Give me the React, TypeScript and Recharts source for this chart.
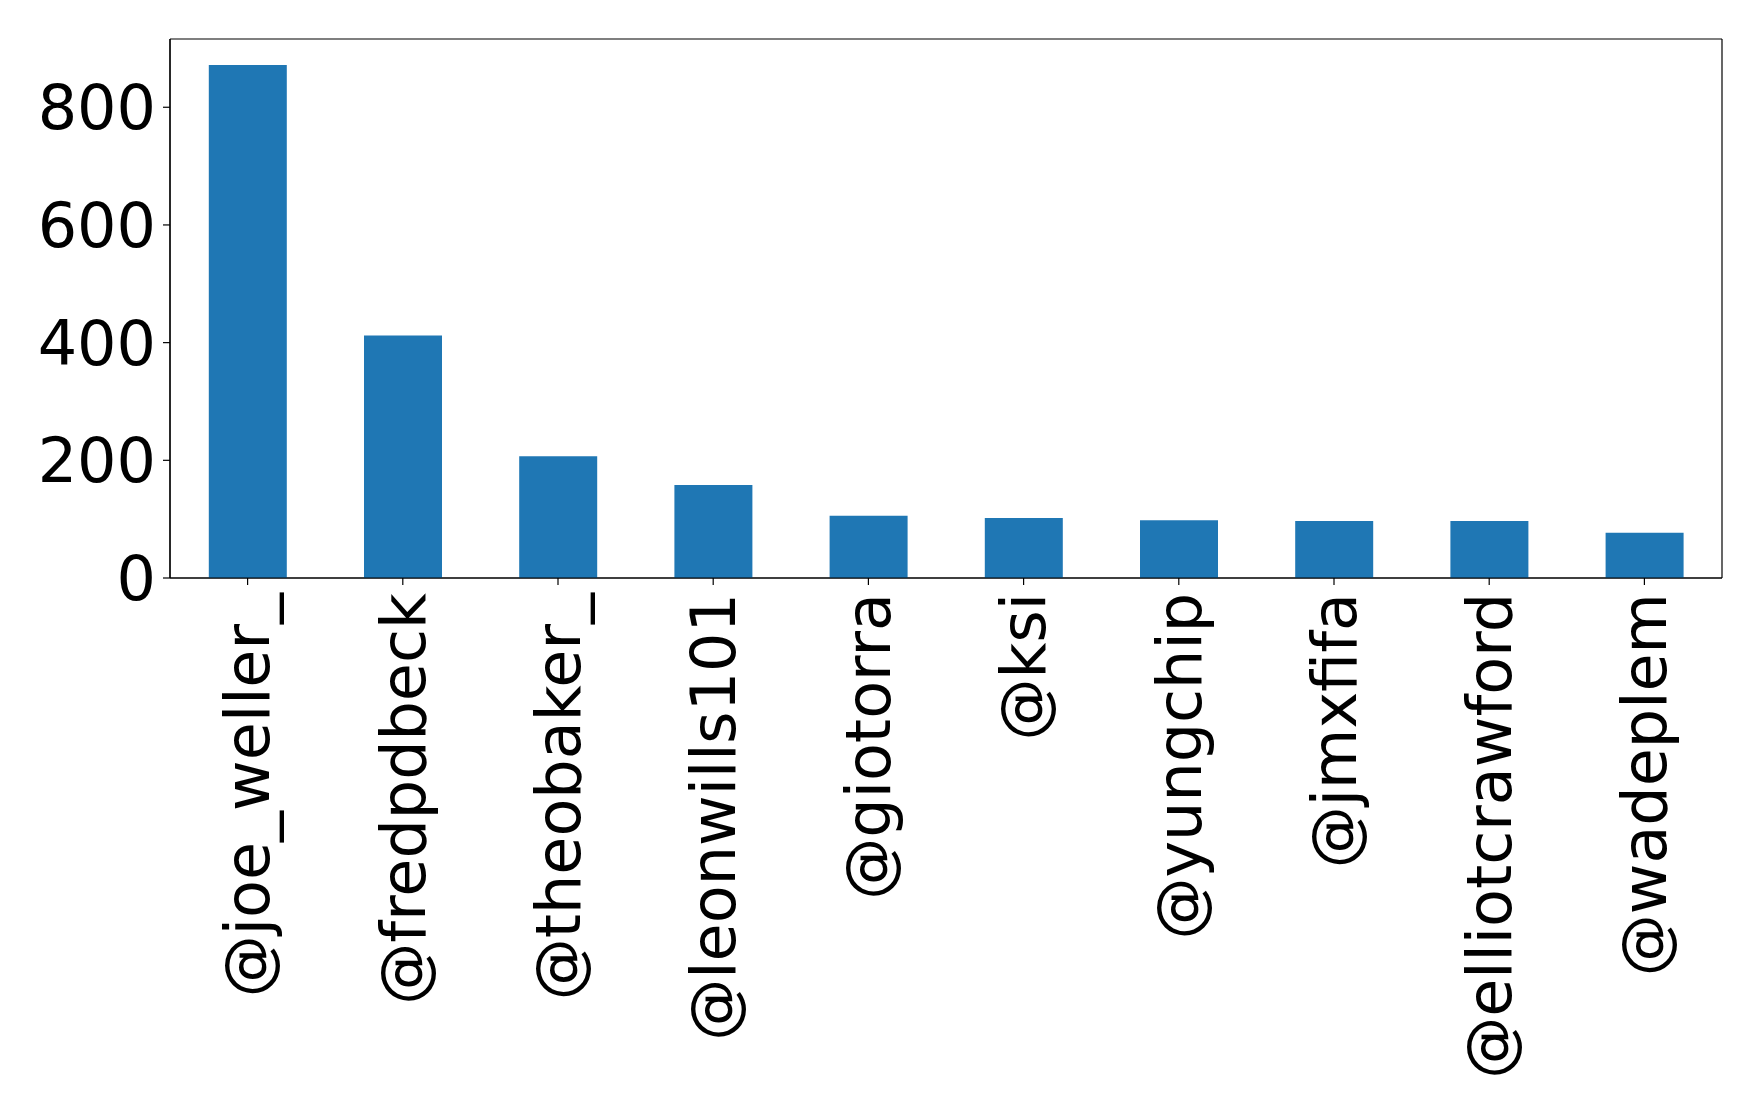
import React from 'react';
import { BarChart, Bar, XAxis, YAxis, CartesianGrid } from 'recharts';

const handles = [
  '@joe_weller_',
  '@fredpdbeck',
  '@theobaker_',
  '@leonwills101',
  '@giotorra',
  '@ksi',
  '@yungchip',
  '@jmxfifa',
  '@elliotcrawford',
  '@wadeplem',
];

const counts = [872, 412, 207, 158, 106, 102, 98, 97, 97, 77];

const yTicks = [0, 200, 400, 600, 800];

const data = handles.map((name, i) => ({ name, count: counts[i] }));

const FONT = '"DejaVu Sans", sans-serif';

// rotated handle labels, text ends right under the tick
function HandleTick(props: any) {
  const { x, y, payload } = props;
  return (
    <g transform={`translate(${x},${y})`}>
      <text
        x={0}
        y={0}
        dy="0.35em"
        transform="rotate(-90)"
        textAnchor="end"
        fill="#000"
        fontSize={62}
        fontFamily={FONT}
      >
        {payload.value}
      </text>
    </g>
  );
}

export default function App() {
  return (
    <div style={{ position: 'absolute', left: 0, top: 0, width: 1758, height: 1118, background: '#fff' }}>
      <BarChart
        width={1758}
        height={1118}
        data={data}
        margin={{ top: 39, right: 36, bottom: 10, left: 10 }}
        barCategoryGap="25%"
      >
        {/* frame around the plot area */}
        <CartesianGrid
          stroke="#000"
          strokeWidth={1.2}
          fill="none"
          horizontalCoordinatesGenerator={({ offset }: any) => [offset.top, offset.top + offset.height]}
          verticalCoordinatesGenerator={({ offset }: any) => [offset.left, offset.left + offset.width]}
        />
        <XAxis
          dataKey="name"
          interval={0}
          height={530}
          stroke="#000"
          tick={<HandleTick />}
          tickSize={7}
          tickMargin={8}
          tickLine={{ stroke: '#000', strokeWidth: 1.2 }}
          axisLine={{ stroke: '#000', strokeWidth: 1.2 }}
        />
        <YAxis
          width={160}
          domain={[0, 916]}
          ticks={yTicks}
          stroke="#000"
          tickSize={7}
          tickMargin={7}
          tick={{ fill: '#000', fontSize: 62, fontFamily: FONT }}
          tickLine={{ stroke: '#000', strokeWidth: 1.2 }}
          axisLine={{ stroke: '#000', strokeWidth: 1.2 }}
        />
        <Bar dataKey="count" fill="#1f77b4" isAnimationActive={false} />
      </BarChart>
    </div>
  );
}
